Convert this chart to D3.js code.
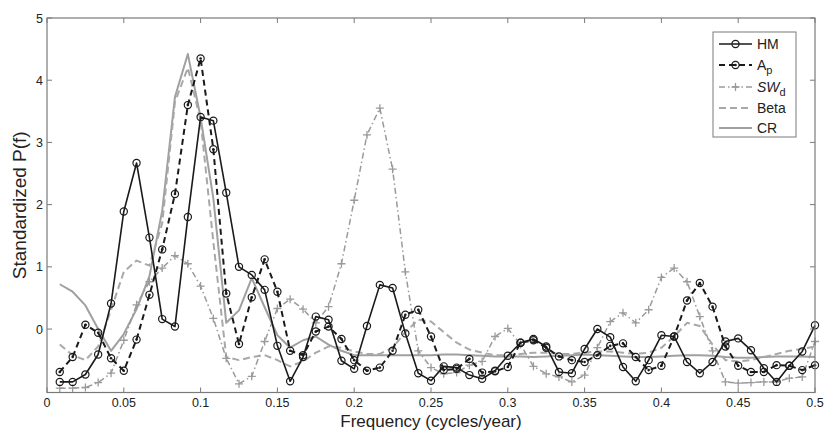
<!DOCTYPE html>
<html><head><meta charset="utf-8">
<script src="https://cdn.jsdelivr.net/npm/d3@7/dist/d3.min.js"></script>
<style>body{margin:0;background:#fff}svg{display:block}text{font-family:"Liberation Sans",Arial,sans-serif}</style>
</head><body><svg id="c" width="827" height="435"></svg>
<script>
const freq = [0.0083,0.0167,0.025,0.0333,0.0417,0.05,0.0583,0.0667,0.075,0.0833,0.0917,0.1,0.1083,0.1167,0.125,0.1333,0.1417,0.15,0.1583,0.1667,0.175,0.1833,0.1917,0.2,0.2083,0.2167,0.225,0.2333,0.2417,0.25,0.2583,0.2667,0.275,0.2833,0.2917,0.3,0.3083,0.3167,0.325,0.3333,0.3417,0.35,0.3583,0.3667,0.375,0.3833,0.3917,0.4,0.4083,0.4167,0.425,0.4333,0.4417,0.45,0.4583,0.4667,0.475,0.4833,0.4917,0.5];
const HM = [-0.85,-0.85,-0.73,-0.41,0.41,1.89,2.67,1.47,0.16,0.04,1.80,3.41,3.35,2.19,1.00,0.87,0.63,-0.27,-0.84,-0.45,0.20,0.15,-0.51,-0.64,0.05,0.71,0.66,-0.07,-0.71,-0.83,-0.60,-0.62,-0.74,-0.80,-0.67,-0.43,-0.22,-0.16,-0.28,-0.69,-0.71,-0.32,0.00,-0.13,-0.61,-0.84,-0.50,-0.10,-0.12,-0.53,-0.71,-0.53,-0.20,-0.15,-0.34,-0.63,-0.85,-0.59,-0.36,0.06];
const Ap = [-0.69,-0.45,0.07,-0.06,-0.47,-0.67,-0.17,0.55,1.28,2.17,3.60,4.35,2.89,0.57,-0.24,0.51,1.12,0.60,-0.35,-0.42,-0.04,0.04,-0.16,-0.50,-0.67,-0.62,-0.35,0.23,0.31,-0.12,-0.66,-0.64,-0.48,-0.70,-0.68,-0.61,-0.22,-0.18,-0.30,-0.44,-0.50,-0.53,-0.42,-0.27,-0.23,-0.45,-0.66,-0.59,-0.12,0.46,0.74,0.36,-0.28,-0.59,-0.69,-0.69,-0.58,-0.59,-0.66,-0.58];
const SWd = [-0.95,-0.95,-0.94,-0.86,-0.71,-0.18,0.39,0.76,0.98,1.18,1.05,0.69,0.17,-0.47,-0.88,-0.76,-0.20,0.33,0.48,0.32,0.10,0.36,1.05,2.07,3.12,3.55,2.57,0.92,-0.35,-0.62,-0.72,-0.70,-0.58,-0.52,-0.12,0.01,-0.25,-0.60,-0.72,-0.77,-0.85,-0.74,-0.30,0.12,0.26,0.10,0.31,0.83,0.98,0.76,0.20,-0.35,-0.85,-0.87,-0.86,-0.85,-0.85,-0.79,-0.77,-0.20];
const Beta = [-0.25,-0.42,-0.50,-0.28,0.31,0.92,1.10,1.02,1.70,3.65,4.20,3.35,1.40,-0.45,-0.50,-0.45,-0.42,-0.50,-0.60,-0.52,-0.38,-0.28,-0.30,-0.36,-0.40,-0.40,-0.30,-0.05,0.15,0.12,-0.05,-0.22,-0.33,-0.38,-0.42,-0.42,-0.40,-0.38,-0.38,-0.40,-0.40,-0.38,-0.36,-0.36,-0.38,-0.40,-0.38,-0.30,-0.12,0.10,0.05,-0.25,-0.50,-0.52,-0.50,-0.45,-0.40,-0.35,-0.32,-0.28];
const CR = [0.72,0.60,0.38,0.00,-0.35,-0.08,0.32,0.85,1.90,3.73,4.42,3.40,2.10,0.10,0.30,0.82,0.35,-0.10,-0.30,-0.18,-0.12,-0.25,-0.35,-0.42,-0.42,-0.42,-0.42,-0.42,-0.42,-0.42,-0.41,-0.41,-0.42,-0.43,-0.44,-0.44,-0.44,-0.45,-0.44,-0.43,-0.42,-0.41,-0.42,-0.43,-0.44,-0.45,-0.45,-0.44,-0.43,-0.42,-0.42,-0.43,-0.45,-0.46,-0.46,-0.45,-0.44,-0.44,-0.44,-0.45];
const xTicks = [0,0.05,0.1,0.15,0.2,0.25,0.3,0.35,0.4,0.45,0.5];
const xTickLabels = ["0","0.05","0.1","0.15","0.2","0.25","0.3","0.35","0.4","0.45","0.5"];
const yTicks = [0,1,2,3,4,5];
const yTickLabels = ["0","1","2","3","4","5"];

const svg = d3.select("#c");
const L=47,R=815,T=18,B=392.5;
const x = d3.scaleLinear().domain([0,0.5]).range([L,R]);
const y = d3.scaleLinear().domain([-1.02,5]).range([B,T]);

const series = [
  {name:"HM", data:HM, color:"#1a1a1a", width:1.6, dash:null, marker:"o"},
  {name:"Ap", data:Ap, color:"#1a1a1a", width:2, dash:"6,4", marker:"od"},
  {name:"SWd", data:SWd, color:"#9a9a9a", width:1.5, dash:"6,3,1.5,3", marker:"+"},
  {name:"Beta", data:Beta, color:"#a8a8a8", width:2, dash:"7,4", marker:null},
  {name:"CR", data:CR, color:"#a0a0a0", width:2, dash:null, marker:null}
];
const drawOrder = [4,3,2,1,0];
const line = d3.line().x((d,i)=>x(freq[i])).y(d=>y(d));
const g = svg.append("g");
function marker(sel, type, color, cx, cy){
  if(type==="o"){
    sel.append("circle").attr("cx",cx).attr("cy",cy).attr("r",3.6).attr("fill","none").attr("stroke",color).attr("stroke-width",1.2);
  } else if(type==="od"){
    sel.append("circle").attr("cx",cx).attr("cy",cy).attr("r",3.6).attr("fill","none").attr("stroke",color).attr("stroke-width",1.2);
    sel.append("circle").attr("cx",cx).attr("cy",cy).attr("r",1.3).attr("fill",color);
  } else if(type==="+"){
    sel.append("path").attr("d",`M${cx-4},${cy}H${cx+4}M${cx},${cy-4}V${cy+4}`).attr("stroke",color).attr("stroke-width",1.3);
  }
}
drawOrder.forEach(si=>{
  const s = series[si];
  g.append("path").attr("d",line(s.data)).attr("fill","none").attr("stroke",s.color)
    .attr("stroke-width",s.width).attr("stroke-dasharray",s.dash).attr("stroke-linejoin","round");
  if(s.marker){
    const mg = g.append("g");
    s.data.forEach((d,i)=>marker(mg,s.marker,s.color,x(freq[i]),y(d)));
  }
});

// axes box
const axc="#7a7a7a";
svg.append("rect").attr("x",L).attr("y",T).attr("width",R-L).attr("height",B-T).attr("fill","none").attr("stroke",axc).attr("stroke-width",1.2);
const tl=5;
xTicks.forEach((t,i)=>{
  const px=x(t);
  svg.append("line").attr("x1",px).attr("x2",px).attr("y1",B).attr("y2",B-tl).attr("stroke",axc);
  svg.append("line").attr("x1",px).attr("x2",px).attr("y1",T).attr("y2",T+tl).attr("stroke",axc);
  svg.append("text").attr("x",px).attr("y",B+14.5).attr("text-anchor","middle").attr("font-size",12.5).attr("fill","#222").text(xTickLabels[i]);
});
yTicks.forEach((t,i)=>{
  const py=y(t);
  svg.append("line").attr("x1",L).attr("x2",L+tl).attr("y1",py).attr("y2",py).attr("stroke",axc);
  svg.append("line").attr("x1",R).attr("x2",R-tl).attr("y1",py).attr("y2",py).attr("stroke",axc);
  svg.append("text").attr("x",L-4).attr("y",py+4.5).attr("text-anchor","end").attr("font-size",12.5).attr("fill","#222").text(yTickLabels[i]);
});
svg.append("text").attr("x",(L+R)/2).attr("y",427).attr("text-anchor","middle").attr("font-size",17).attr("fill","#222").text("Frequency (cycles/year)");
svg.append("text").attr("transform",`translate(26,${(T+B)/2}) rotate(-90)`).attr("text-anchor","middle").attr("font-size",19).attr("fill","#222").text("Standardized P(f)");

// legend
const lg = svg.append("g");
lg.append("rect").attr("x",713).attr("y",32).attr("width",83).attr("height",105).attr("fill","#fff").attr("stroke",axc).attr("stroke-width",1);
const ly=[44,65,87,108,128];
series.forEach((s,i)=>{
  lg.append("line").attr("x1",719).attr("x2",752).attr("y1",ly[i]).attr("y2",ly[i]).attr("stroke",s.color)
    .attr("stroke-width",s.width).attr("stroke-dasharray",s.dash);
  if(s.marker) marker(lg,s.marker,s.color,735.5,ly[i]);
  const t = lg.append("text").attr("x",757).attr("y",ly[i]+5).attr("font-size",14).attr("fill","#222");
  if(s.name==="Ap"){ t.append("tspan").text("A"); t.append("tspan").attr("dy",4).attr("font-size",11).text("p"); }
  else if(s.name==="SWd"){ t.append("tspan").attr("font-style","italic").text("SW"); t.append("tspan").attr("dy",4).attr("font-size",11).text("d"); }
  else t.text(s.name);
});
</script></body></html>
